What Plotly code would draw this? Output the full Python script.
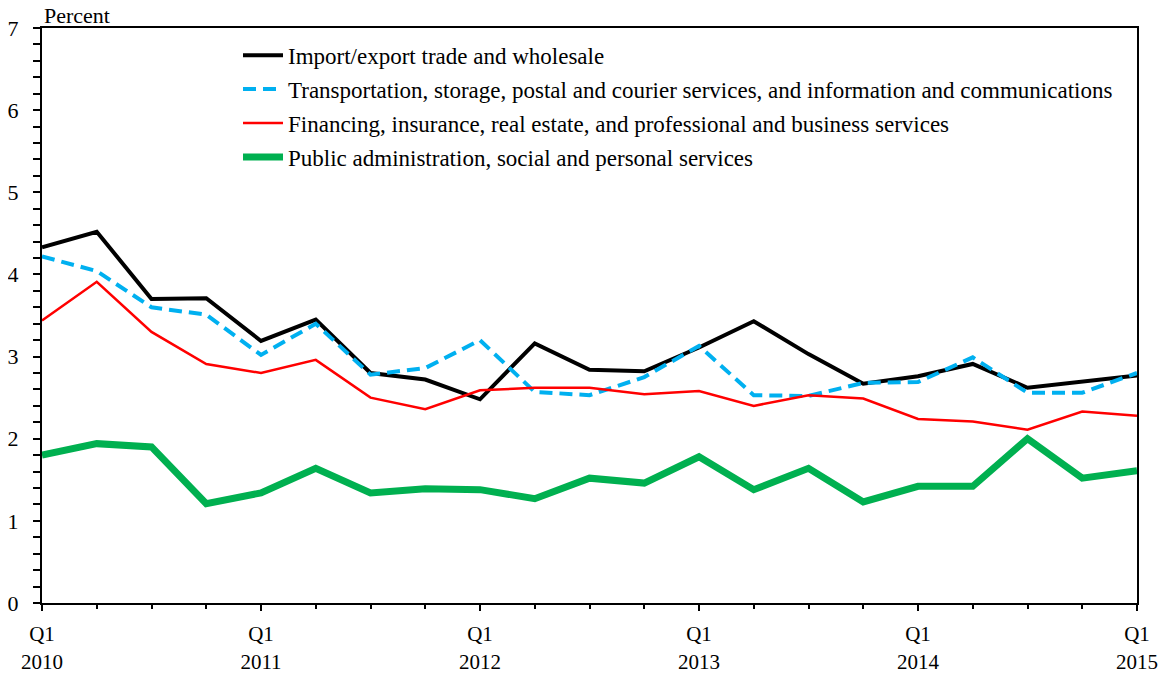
import plotly.graph_objects as go

quarters = [f"Q{q} {y}" for y in range(2010, 2015) for q in range(1, 5)] + ["Q1 2015"]
tick_labels = ["Q1<br>2010", "Q1<br>2011", "Q1<br>2012", "Q1<br>2013", "Q1<br>2014", "Q1<br>2015"]

trade = [4.33, 4.52, 3.70, 3.71, 3.19, 3.45, 2.80, 2.72, 2.48, 3.16, 2.84, 2.82,
         3.11, 3.43, 3.03, 2.67, 2.76, 2.91, 2.62, 2.70, 2.77]
transport = [4.22, 4.04, 3.60, 3.51, 3.02, 3.40, 2.78, 2.86, 3.20, 2.57, 2.53, 2.75,
             3.13, 2.53, 2.52, 2.68, 2.69, 2.99, 2.56, 2.56, 2.80]
finance = [3.44, 3.91, 3.30, 2.91, 2.80, 2.96, 2.50, 2.36, 2.59, 2.62, 2.62, 2.54,
           2.58, 2.40, 2.53, 2.49, 2.24, 2.21, 2.11, 2.33, 2.28]
public = [1.80, 1.94, 1.90, 1.21, 1.34, 1.64, 1.34, 1.39, 1.38, 1.27, 1.52, 1.46,
          1.78, 1.38, 1.64, 1.23, 1.42, 1.42, 2.00, 1.52, 1.61]

names = [
    "Import/export trade and wholesale",
    "Transportation, storage, postal and courier services, and information and communications",
    "Financing, insurance, real estate, and professional and business services",
    "Public administration, social and personal services",
]

x = list(range(len(quarters)))
FONT = "Liberation Serif, Times New Roman, serif"

fig = go.Figure()
styles = [
    dict(color="#000000", width=4),
    dict(color="#00B0F0", width=4, dash="13px,7px"),
    dict(color="#FF0000", width=2.5),
    dict(color="#00B050", width=7),
]
for i, (name, vals, st) in enumerate(zip(names, [trade, transport, finance, public], styles)):
    fig.add_trace(go.Scatter(x=x, y=vals, mode="lines", name=name, line=st,
                             legendgroup=f"g{i}", customdata=quarters,
                             hovertemplate="%{customdata}: %{y:.2f}<extra></extra>"))

fig.update_layout(
    width=1163, height=668,
    margin=dict(l=34, r=34, t=20, b=73, autoexpand=False),
    paper_bgcolor="white", plot_bgcolor="white",
    font=dict(family=FONT, size=22, color="black"),
    showlegend=True,
    legend=dict(x=0.179, y=0.99, xanchor="left", yanchor="top",
                bgcolor="rgba(0,0,0,0)", font=dict(size=23),
                traceorder="grouped", tracegroupgap=1, itemwidth=40),
    xaxis=dict(range=[0, 20], tickmode="array", tickvals=[0, 4, 8, 12, 16, 20],
               ticktext=tick_labels, showgrid=False, zeroline=False, automargin=False,
               showline=True, linecolor="black", linewidth=2, mirror=True,
               ticks="outside", ticklen=6, tickcolor="black", tickwidth=1.5,
               ticklabelstandoff=5,
               minor=dict(tickmode="linear", tick0=0, dtick=1, ticks="outside",
                          ticklen=4, tickcolor="black", tickwidth=1.5),
               tickfont=dict(size=21)),
    yaxis=dict(range=[0, 7], dtick=1, showgrid=False, zeroline=False, automargin=False,
               showline=True, linecolor="black", linewidth=2, mirror=True,
               ticks="outside", ticklen=7, tickcolor="black", tickwidth=1.5,
               ticklabelstandoff=10,
               minor=dict(dtick=0.2, ticks="outside", ticklen=7,
                          tickcolor="black", tickwidth=1.5),
               tickfont=dict(size=22)),
    annotations=[dict(text="Percent", xref="paper", yref="paper", x=0.0, y=1.0,
                      xanchor="left", yanchor="bottom", yshift=-2, showarrow=False,
                      font=dict(size=22, family=FONT))],
)

fig.write_html("out.html")
